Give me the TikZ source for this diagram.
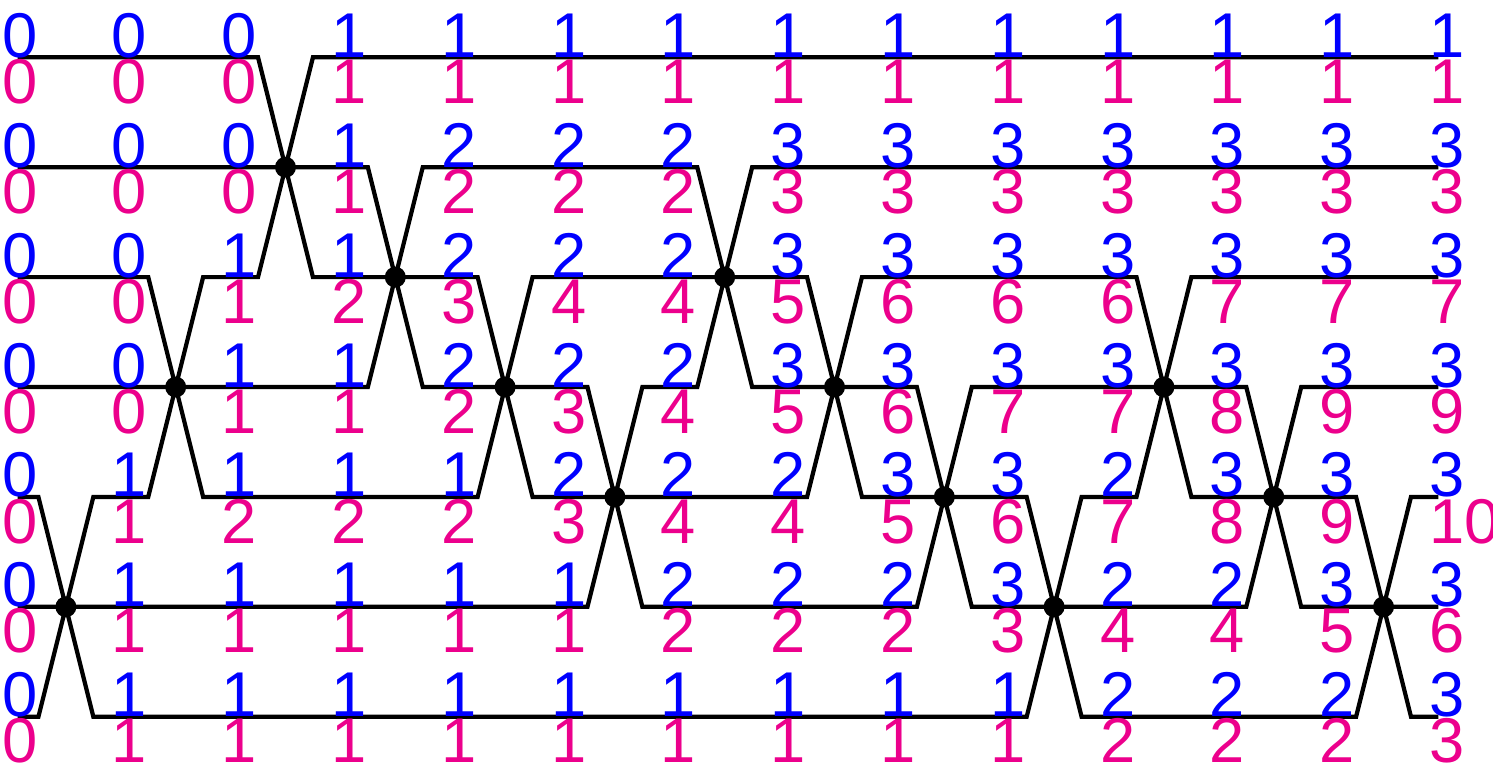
\documentclass[tikz,border=0pt]{standalone}
\usepackage{fontspec}
\setmainfont{Liberation Sans}
\definecolor{upperlbl}{RGB}{0,0,255}
\definecolor{lowerlbl}{RGB}{236,0,140}

\begin{document}
\begin{tikzpicture}[x=1.098cm, y=-1.099cm, line width=1.2pt,
		junction/.style={circle, fill, inner sep=0pt, minimum size=0.21cm},
		toplabel/.style={anchor=base west, inner sep=0pt, text=upperlbl, font=\fontsize{18}{20}\selectfont},
		botlabel/.style={anchor=base west, inner sep=0pt, text=lowerlbl, font=\fontsize{18}{20}\selectfont}]
		\useasboundingbox (0,-0.5214) rectangle (13.597,6.4304);
		
		% crossings, one per gap
		\foreach \j [count=\k from 0] in {5,3,1,2,3,4,2,3,4,5,3,4,5} {
			\node (x\k) [junction] at (\k+0.6,\j) {};
			\coordinate (x\k-tl) at (\k+0.35,\j-1);
			\coordinate (x\k-tr) at (\k+0.85,\j-1);
			\coordinate (x\k-bl) at (\k+0.35,\j+1);
			\coordinate (x\k-br) at (\k+0.85,\j+1);
		}
		\foreach \w in {0,...,6} {
			\coordinate (s\w) at (0.16,\w);
			\coordinate (e\w) at (13.1,\w);
		}
		
		\draw (s0) -- (x2-tl) -- (x2-br) -- (x4-tl) -- (x4-br) -- (x7-bl) -- (x7-tr) -- (x10-tl) -- (x10-br) -- (x12-tl) -- (x12-br) -- (e6);
		\draw (s1) -- (x3-tl) -- (x3-br) -- (x5-tl) -- (x5-br) -- (x8-bl) -- (x8-tr) -- (x11-tl) -- (x11-br) -- (e5);
		\draw (s2) -- (x1-tl) -- (x1-br) -- (x4-bl) -- (x4-tr) -- (x7-tl) -- (x7-br) -- (x9-tl) -- (x9-br) -- (x12-bl) -- (x12-tr) -- (e4);
		\draw (s3) -- (x3-bl) -- (x3-tr) -- (x6-tl) -- (x6-br) -- (x8-tl) -- (x8-br) -- (x11-bl) -- (x11-tr) -- (e3);
		\draw (s4) -- (x0-tl) -- (x0-br) -- (x9-bl) -- (x9-tr) -- (x10-bl) -- (x10-tr) -- (e2);
		\draw (s5) -- (x5-bl) -- (x5-tr) -- (x6-bl) -- (x6-tr) -- (e1);
		\draw (s6) -- (x0-bl) -- (x0-tr) -- (x1-bl) -- (x1-tr) -- (x2-bl) -- (x2-tr) -- (e0);
		
		% labels above and below each wire
		\foreach \row [count=\w from 0] in {
			{0,0,0,1,1,1,1,1,1,1,1,1,1,1},
			{0,0,0,1,2,2,2,3,3,3,3,3,3,3},
			{0,0,1,1,2,2,2,3,3,3,3,3,3,3},
			{0,0,1,1,2,2,2,3,3,3,3,3,3,3},
			{0,1,1,1,1,2,2,2,3,3,2,3,3,3},
			{0,1,1,1,1,1,2,2,2,3,2,2,3,3},
			{0,1,1,1,1,1,1,1,1,1,2,2,2,3}} {
			\foreach \v [count=\i from 0] in \row
				\node (b\w-\i) [toplabel] at (\i,\w) {\v};
		}
		\foreach \row [count=\w from 0] in {
			{0,0,0,1,1,1,1,1,1,1,1,1,1,1},
			{0,0,0,1,2,2,2,3,3,3,3,3,3,3},
			{0,0,1,2,3,4,4,5,6,6,6,7,7,7},
			{0,0,1,1,2,3,4,5,6,7,7,8,9,9},
			{0,1,2,2,2,3,4,4,5,6,7,8,9,10},
			{0,1,1,1,1,1,2,2,2,3,4,4,5,6},
			{0,1,1,1,1,1,1,1,1,1,2,2,2,3}} {
			\foreach \v [count=\i from 0] in \row
				\node (m\w-\i) [botlabel] at (\i,\w+0.42) {\v};
		}
	\end{tikzpicture}
\end{document}
